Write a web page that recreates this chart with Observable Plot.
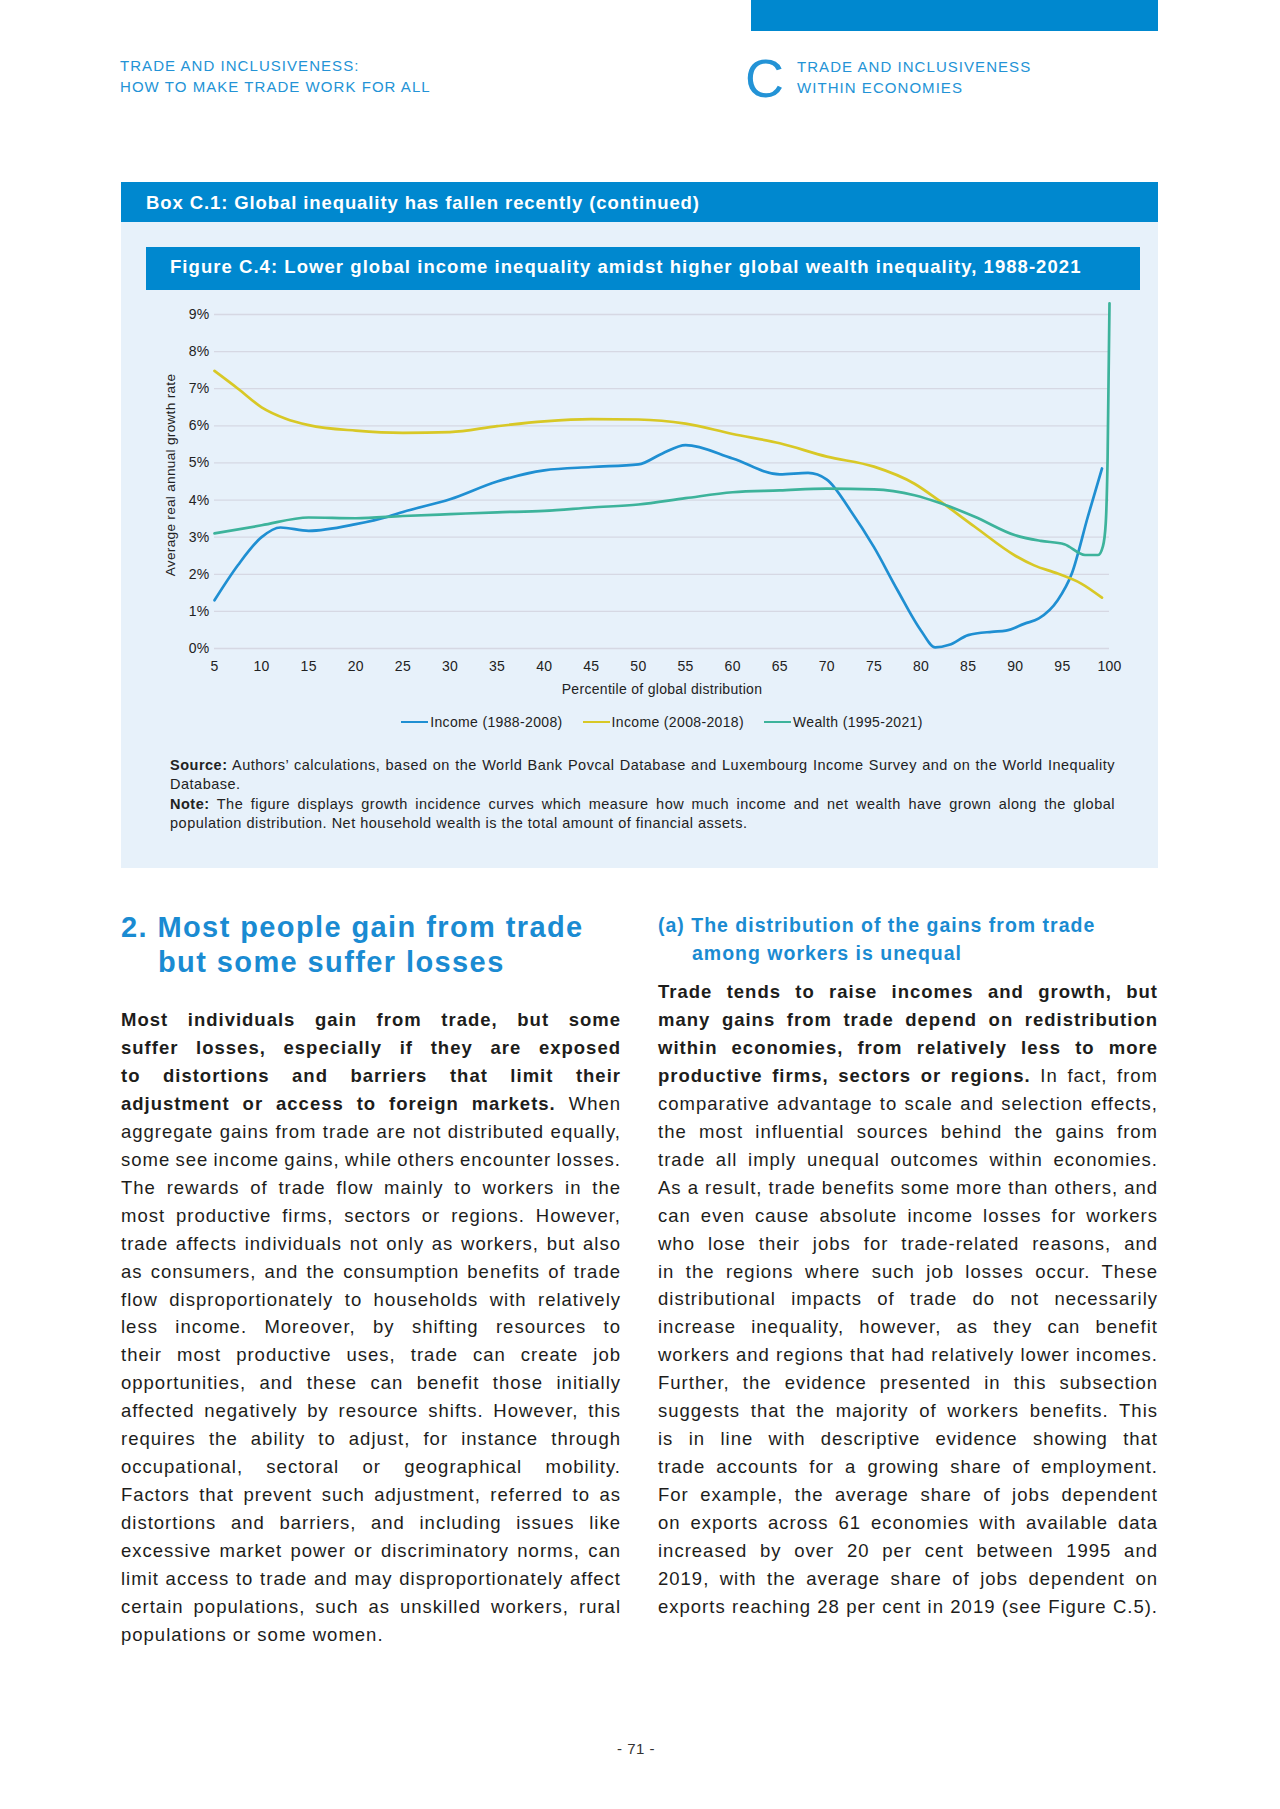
<!DOCTYPE html>
<html>
<head>
<meta charset="utf-8">
<script src="https://cdn.jsdelivr.net/npm/d3@7"></script>
<script src="https://cdn.jsdelivr.net/npm/@observablehq/plot@0.6"></script>
<style>
  html, body { margin: 0; padding: 0; background: #ffffff; }
  body { width: 1280px; height: 1809px; position: relative; font-family: "Liberation Sans", Arial, sans-serif; color: #1d1d1b; overflow: hidden; }
  .abs { position: absolute; }
  .topbar { left: 751px; top: 0; width: 407px; height: 31px; background: #0088cf; }
  .hdr { color: #2393d6; font-size: 15px; line-height: 20.5px; letter-spacing: 1.05px; }
  .bigC { left: 745px; top: 51px; font-size: 54px; line-height: 54px; color: #2393d6; font-family: "Liberation Sans", sans-serif; font-weight: 400; }
  .boxhead { left: 121px; top: 182px; width: 1037px; height: 40px; background: #0088cf; }
  .boxbody { left: 121px; top: 222px; width: 1037px; height: 646px; background: #e7f1fa; }
  .boxtitle { left: 146px; top: 192px; color: #fff; font-weight: bold; font-size: 18.5px; line-height: 22px; letter-spacing: 0.9px; }
  .fighead { left: 146px; top: 247px; width: 994px; height: 43px; background: #0088cf; }
  .figtitle { left: 170px; top: 256px; color: #fff; font-weight: bold; font-size: 18.5px; line-height: 22px; letter-spacing: 1.05px; }
  #chart { left: 121px; top: 290px; }
  .legend { left: 121px; top: 712px; width: 1082px; height: 20px; display: flex; justify-content: center; font-size: 14px; line-height: 20px; color: #222; letter-spacing: 0.35px; }
  .legend .item { display: flex; align-items: center; margin: 0 10px; }
  .legend .sw { width: 27px; height: 2.6px; margin-right: 2px; }
  .notes { left: 170px; top: 756px; width: 945px; font-size: 14.5px; line-height: 19.3px; color: #222; letter-spacing: 0.5px; }
  .ln { display: block; white-space: normal; }
  .jl { text-align: justify; text-align-last: justify; }
  .h2 { color: #1a8bd2; font-weight: bold; }
  .col { font-size: 18.5px; line-height: 27.95px; width: 500px; letter-spacing: 1px; }
  .pagenum { left: 0; width: 1272px; top: 1740px; text-align: center; font-size: 15px; line-height: 18px; color: #333; letter-spacing: 0.5px; }
</style>
</head>
<body>
<div class="abs topbar"></div>
<div class="abs hdr" style="left:120px; top:56px;">TRADE AND INCLUSIVENESS:<br>HOW TO MAKE TRADE WORK FOR ALL</div>
<div class="abs bigC">C</div>
<div class="abs hdr" style="left:797px; top:57px;">TRADE AND INCLUSIVENESS<br>WITHIN ECONOMIES</div>

<div class="abs boxhead"></div>
<div class="abs boxtitle">Box C.1: Global inequality has fallen recently (continued)</div>
<div class="abs boxbody"></div>
<div class="abs fighead"></div>
<div class="abs figtitle">Figure C.4: Lower global income inequality amidst higher global wealth inequality, 1988-2021</div>
<div class="abs" id="chart"></div>
<div class="abs legend" id="legend"></div>

<div class="abs notes">
  <span class="ln jl"><b>Source:</b> Authors’ calculations, based on the World Bank Povcal Database and Luxembourg Income Survey and on the World Inequality</span>
  <span class="ln">Database.</span>
  <span class="ln jl"><b>Note:</b> The figure displays growth incidence curves which measure how much income and net wealth have grown along the global</span>
  <span class="ln">population distribution. Net household wealth is the total amount of financial assets.</span>
</div>

<div class="abs h2" style="left:121px; top:910px; font-size:29px; line-height:35px; letter-spacing:1.4px;">
  <div>2. Most people gain from trade</div>
  <div style="padding-left:37px;">but some suffer losses</div>
</div>

<div class="abs h2" style="left:658px; top:911px; font-size:19.5px; line-height:28px; letter-spacing:1px;">
  <div>(a) The distribution of the gains from trade</div>
  <div style="padding-left:34px;">among workers is unequal</div>
</div>

<div class="abs col" style="left:121px; top:1006px;">
  <span class="ln jl"><b>Most individuals gain from trade, but some</b></span>
  <span class="ln jl"><b>suffer losses, especially if they are exposed</b></span>
  <span class="ln jl"><b>to distortions and barriers that limit their</b></span>
  <span class="ln jl"><b>adjustment or access to foreign markets.</b> When</span>
  <span class="ln jl">aggregate gains from trade are not distributed equally,</span>
  <span class="ln jl">some see income gains, while others encounter losses.</span>
  <span class="ln jl">The rewards of trade flow mainly to workers in the</span>
  <span class="ln jl">most productive firms, sectors or regions. However,</span>
  <span class="ln jl">trade affects individuals not only as workers, but also</span>
  <span class="ln jl">as consumers, and the consumption benefits of trade</span>
  <span class="ln jl">flow disproportionately to households with relatively</span>
  <span class="ln jl">less income. Moreover, by shifting resources to</span>
  <span class="ln jl">their most productive uses, trade can create job</span>
  <span class="ln jl">opportunities, and these can benefit those initially</span>
  <span class="ln jl">affected negatively by resource shifts. However, this</span>
  <span class="ln jl">requires the ability to adjust, for instance through</span>
  <span class="ln jl">occupational, sectoral or geographical mobility.</span>
  <span class="ln jl">Factors that prevent such adjustment, referred to as</span>
  <span class="ln jl">distortions and barriers, and including issues like</span>
  <span class="ln jl">excessive market power or discriminatory norms, can</span>
  <span class="ln jl">limit access to trade and may disproportionately affect</span>
  <span class="ln jl">certain populations, such as unskilled workers, rural</span>
  <span class="ln">populations or some women.</span>
</div>

<div class="abs col" style="left:658px; top:978px;">
  <span class="ln jl"><b>Trade tends to raise incomes and growth, but</b></span>
  <span class="ln jl"><b>many gains from trade depend on redistribution</b></span>
  <span class="ln jl"><b>within economies, from relatively less to more</b></span>
  <span class="ln jl"><b>productive firms, sectors or regions.</b> In fact, from</span>
  <span class="ln jl">comparative advantage to scale and selection effects,</span>
  <span class="ln jl">the most influential sources behind the gains from</span>
  <span class="ln jl">trade all imply unequal outcomes within economies.</span>
  <span class="ln jl">As a result, trade benefits some more than others, and</span>
  <span class="ln jl">can even cause absolute income losses for workers</span>
  <span class="ln jl">who lose their jobs for trade-related reasons, and</span>
  <span class="ln jl">in the regions where such job losses occur. These</span>
  <span class="ln jl">distributional impacts of trade do not necessarily</span>
  <span class="ln jl">increase inequality, however, as they can benefit</span>
  <span class="ln jl">workers and regions that had relatively lower incomes.</span>
  <span class="ln jl">Further, the evidence presented in this subsection</span>
  <span class="ln jl">suggests that the majority of workers benefits. This</span>
  <span class="ln jl">is in line with descriptive evidence showing that</span>
  <span class="ln jl">trade accounts for a growing share of employment.</span>
  <span class="ln jl">For example, the average share of jobs dependent</span>
  <span class="ln jl">on exports across 61 economies with available data</span>
  <span class="ln jl">increased by over 20 per cent between 1995 and</span>
  <span class="ln jl">2019, with the average share of jobs dependent on</span>
  <span class="ln jl">exports reaching 28 per cent in 2019 (see Figure C.5).</span>
</div>

<div class="abs pagenum">- 71 -</div>

<script>
// ---- Data ----
const seriesNames = ["Income (1988-2008)", "Income (2008-2018)", "Wealth (1995-2021)"];
const seriesColors = ["#1f8fd2", "#d8c826", "#3db39b"];

const incomeOldPct = [5, 7.5, 10, 12, 15, 20, 23.4, 25, 30, 35, 40, 45, 50, 52.5, 55, 60, 65, 68, 70, 72.5, 75, 77.5, 80, 81.5, 83, 85, 87.5, 89, 91, 92.5, 94.5, 96, 97.7, 99.2];
const incomeOldVal = [1.3, 2.25, 3.0, 3.26, 3.17, 3.35, 3.55, 3.68, 4.02, 4.5, 4.8, 4.89, 4.96, 5.25, 5.48, 5.12, 4.69, 4.73, 4.55, 3.72, 2.73, 1.57, 0.48, 0.03, 0.1, 0.36, 0.45, 0.48, 0.67, 0.81, 1.3, 2.02, 3.55, 4.85];

const incomeNewPct = [5, 7.5, 10, 12.5, 15, 20, 25, 30, 35, 40, 45, 50, 55, 60, 65, 70, 75, 79.3, 82, 85.7, 90, 92, 94.5, 97, 99.2];
const incomeNewVal = [7.48, 7.0, 6.5, 6.2, 6.02, 5.87, 5.81, 5.83, 5.99, 6.12, 6.18, 6.17, 6.06, 5.78, 5.53, 5.17, 4.9, 4.44, 3.97, 3.28, 2.5, 2.24, 2.02, 1.75, 1.37];

const wealthPct = [5, 10, 15, 20, 25, 30, 35, 40, 45, 50, 55, 60, 65, 70, 75, 79.3, 82, 85.7, 90, 92.7, 95.2, 97.4, 98.8, 99.3, 99.6, 99.8, 100];
const wealthVal = [3.1, 3.32, 3.53, 3.51, 3.57, 3.62, 3.67, 3.71, 3.8, 3.88, 4.05, 4.21, 4.26, 4.31, 4.29, 4.13, 3.92, 3.55, 3.05, 2.9, 2.81, 2.52, 2.52, 2.75, 3.37, 5.16, 9.3];

const xTicks = [5, 10, 15, 20, 25, 30, 35, 40, 45, 50, 55, 60, 65, 70, 75, 80, 85, 90, 95, 100];
const yTicks = [0, 1, 2, 3, 4, 5, 6, 7, 8, 9];

// ---- Build table ----
const pcts = [incomeOldPct, incomeNewPct, wealthPct];
const vals = [incomeOldVal, incomeNewVal, wealthVal];
const rows = [];
seriesNames.forEach((s, i) => pcts[i].forEach((p, j) => rows.push({series: s, p, v: vals[i][j]})));

const chart = Plot.plot({
  width: 1037,
  height: 410,
  marginLeft: 93,
  marginRight: 49,
  marginTop: 11,
  marginBottom: 52,
  style: {background: "transparent", fontFamily: "Liberation Sans, Arial, sans-serif", fontSize: "14px", color: "#222", overflow: "visible", letterSpacing: "0.3px"},
  x: {domain: [5, 100]},
  y: {domain: [0, 9.35]},
  color: {domain: seriesNames, range: seriesColors},
  marks: [
    Plot.gridY(yTicks, {stroke: "#d6d8e3", strokeOpacity: 1, strokeWidth: 1.3}),
    Plot.axisY({ticks: yTicks, tickSize: 0, tickPadding: 5, tickFormat: d => d + "%",
      label: null}),
    Plot.axisY({ticks: [], tickSize: 0, fontSize: 13.6, letterSpacing: "0.1px", dx: -6,
      label: "Average real annual growth rate", labelAnchor: "center", labelArrow: "none", labelOffset: 49}),
    Plot.axisX({ticks: xTicks, tickSize: 0, tickPadding: 13, tickFormat: d => String(d),
      label: "Percentile of global distribution", labelAnchor: "center", labelArrow: "none", labelOffset: 45}),
    Plot.line(rows, {x: "p", y: "v", z: "series", stroke: "series", curve: "monotone-x", strokeWidth: 2.7})
  ]
});
document.getElementById("chart").appendChild(chart);

// ---- Legend ----
const legend = document.getElementById("legend");
seriesNames.forEach((s, i) => {
  const it = document.createElement("div");
  it.className = "item";
  const sw = document.createElement("span");
  sw.className = "sw";
  sw.style.background = seriesColors[i];
  const t = document.createElement("span");
  t.textContent = s;
  it.appendChild(sw); it.appendChild(t);
  legend.appendChild(it);
});

// ---- Fit justified lines so none wraps ----
document.querySelectorAll(".ln").forEach(el => {
  const W = el.getBoundingClientRect().width;
  el.style.whiteSpace = "nowrap";
  el.style.textAlign = "left";
  el.style.textAlignLast = "auto";
  const r = document.createRange();
  r.selectNodeContents(el);
  const w = r.getBoundingClientRect().width;
  if (w > W - 0.5) {
    const spaces = (el.textContent.trim().match(/ /g) || []).length || 1;
    el.style.wordSpacing = (-(w - W + 1) / spaces) + "px";
  }
  el.style.whiteSpace = "normal";
  el.style.textAlign = "";
  el.style.textAlignLast = "";
});
</script>
</body>
</html>
